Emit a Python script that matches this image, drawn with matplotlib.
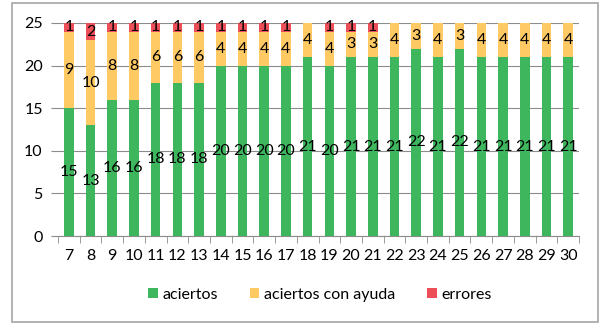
import numpy as np
import matplotlib
matplotlib.use("Agg")
import matplotlib.pyplot as plt
from matplotlib.patches import Rectangle

# data
dias = ["7", "8", "9", "10", "11", "12", "13", "14", "15", "16", "17", "18",
        "19", "20", "21", "22", "23", "24", "25", "26", "27", "28", "29", "30"]
aciertos = [15, 13, 16, 16, 18, 18, 18, 20, 20, 20, 20, 21,
            20, 21, 21, 21, 22, 21, 22, 21, 21, 21, 21, 21]
con_ayuda = [9, 10, 8, 8, 6, 6, 6, 4, 4, 4, 4, 4,
             4, 3, 3, 4, 3, 4, 3, 4, 4, 4, 4, 4]
errores = [1, 2, 1, 1, 1, 1, 1, 1, 1, 1, 1, 0,
           1, 1, 1, 0, 0, 0, 0, 0, 0, 0, 0, 0]

plt.rcParams['font.family'] = ['Lato', 'DejaVu Sans']

W, H = 605, 335
fig = plt.figure(figsize=(W / 100, H / 100), dpi=100)

# outer frame of the chart
fig.patches.append(Rectangle((12 / W, 1 - 322 / H), 586 / W, 319 / H,
                             transform=fig.transFigure, fill=False,
                             edgecolor="#a6a6a6", linewidth=1.2))

ax = fig.add_axes([58 / W, 1 - 236 / H, 521 / W, 213 / H])

x = np.arange(len(dias))
verde = "#3db65e"
amarillo = "#ffc964"
rojo = "#ec4f57"
bw = 0.44

b1 = ax.bar(x, aciertos, bw, color=verde, label="aciertos", zorder=3)
b2 = ax.bar(x, con_ayuda, bw, bottom=aciertos, color=amarillo,
            label="aciertos con ayuda", zorder=3)
base2 = np.array(aciertos) + np.array(con_ayuda)
b3 = ax.bar(x, errores, bw, bottom=base2, color=rojo, label="errores", zorder=3)

for bars, vals in ((b1, aciertos), (b2, con_ayuda), (b3, errores)):
    labs = [str(v) if v else "" for v in vals]
    ax.bar_label(bars, labels=labs, label_type="center", fontsize=11.5,
                 color="black", zorder=4)

ax.set_xlim(-0.5, len(dias) - 0.5)
ax.set_ylim(0, 25)
ax.set_yticks([0, 5, 10, 15, 20, 25])
ax.set_xticks(x)
ax.set_xticklabels(dias)
ax.set_xticks(np.arange(-0.5, len(dias)), minor=True)
ax.tick_params(axis="x", which="major", length=0, labelsize=11.5, pad=9)
ax.tick_params(axis="x", which="minor", length=5, color="#8c8c8c")
ax.tick_params(axis="y", length=5, color="#8c8c8c", labelsize=11.5, pad=6)

ax.grid(axis="y", color="#8c8c8c", linewidth=0.8, zorder=0)
for side in ("top", "right", "left"):
    ax.spines[side].set_visible(False)
ax.spines["bottom"].set_color("#8c8c8c")

ax.legend(loc="center", bbox_to_anchor=(320 / W, 1 - 295 / H),
          bbox_transform=fig.transFigure, ncol=3, frameon=False,
          fontsize=11.5, handlelength=0.6, handleheight=0.6,
          handletextpad=0.3, columnspacing=2.0)

fig.savefig("out.png", dpi=100)
